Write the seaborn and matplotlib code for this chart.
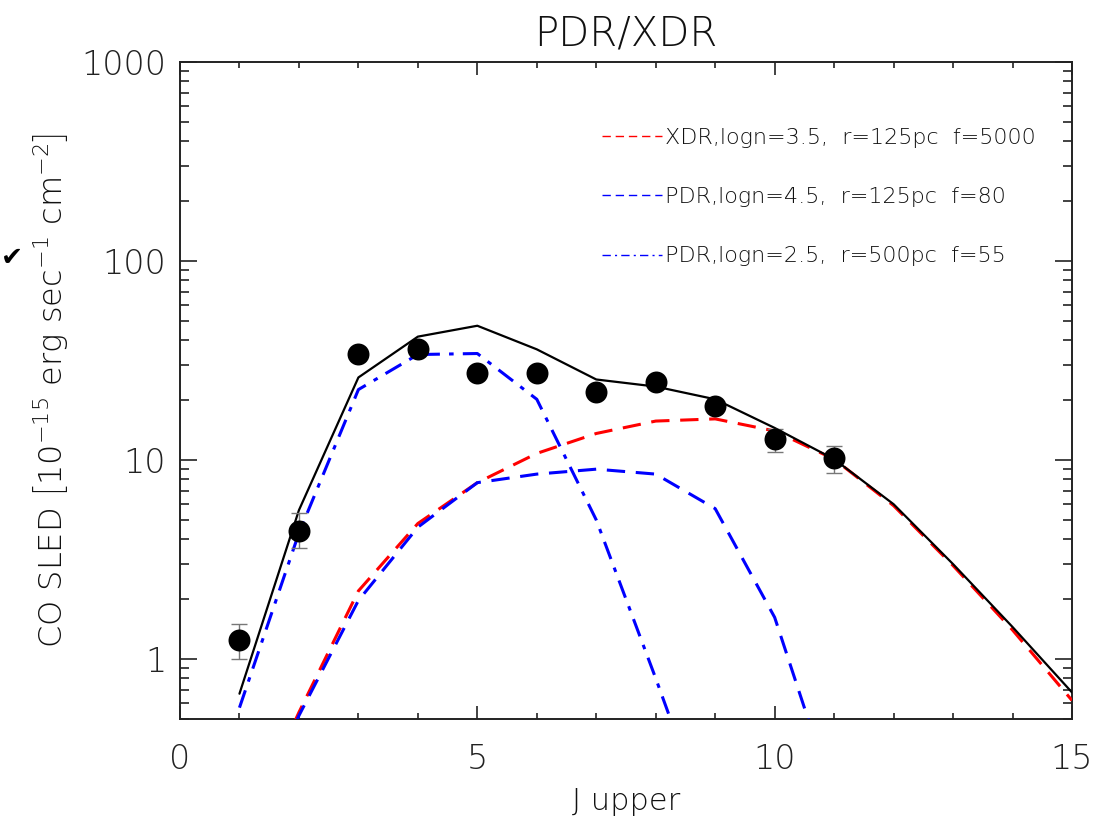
import numpy as np
import pandas as pd
import matplotlib
matplotlib.use("Agg")
import matplotlib.pyplot as plt
import seaborn as sns
from matplotlib.ticker import FixedLocator, NullFormatter, LogLocator

# ---------------- data ----------------
j_obs = [1, 2, 3, 4, 5, 6, 7, 8, 9, 10, 11]
flux_obs = [1.25, 4.4, 34.0, 36.0, 27.5, 27.5, 22.0, 24.8, 18.6, 12.7, 10.2]
err_lo = [0.25, 0.8, 2.0, 2.0, 1.5, 1.5, 1.2, 1.3, 1.0, 1.7, 1.6]
err_hi = [0.25, 1.0, 2.0, 2.0, 1.5, 1.5, 1.2, 1.3, 1.0, 1.6, 1.5]

j_mod = [1, 2, 3, 4, 5, 6, 7, 8, 9, 10, 11, 12, 13, 14, 15]
total = [0.67, 5.6, 26.0, 41.7, 47.3, 36.0, 25.4, 23.4, 20.2, 14.5, 10.1, 6.0, 3.0, 1.45, 0.68]
xdr_35 = [0.12, 0.54, 2.2, 4.8, 7.7, 10.8, 13.6, 15.7, 16.1, 14.0, 10.1, 5.9, 2.95, 1.4, 0.62]
pdr_45 = [0.11, 0.52, 1.97, 4.6, 7.7, 8.5, 9.0, 8.5, 5.7, 1.62, 0.2, 0.02, 0.002, 0.0002, 0.00002]
pdr_25 = [0.57, 4.3, 22.6, 33.9, 34.3, 20.2, 5.0, 0.8, 0.12, 0.01, 0.001, 0.0001, 0.00001, 0.000001, 0.0000001]

labels = ["XDR,logn=3.5,  r=125pc  f=5000",
          "PDR,logn=4.5,  r=125pc  f=80",
          "PDR,logn=2.5,  r=500pc  f=55"]

# ---------------- style ----------------
sns.set_theme(style="ticks")
FONT = ["DejaVu Sans"]
plt.rcParams["font.family"] = FONT
plt.rcParams["font.weight"] = "light"
plt.rcParams["axes.titleweight"] = "light"
plt.rcParams["axes.labelweight"] = "light"
plt.rcParams["text.color"] = "#111111"
plt.rcParams["axes.labelcolor"] = "#111111"
plt.rcParams["xtick.color"] = "#222222"
plt.rcParams["ytick.color"] = "#222222"
plt.rcParams["mathtext.fontset"] = "custom"
plt.rcParams["mathtext.rm"] = "DejaVu Sans:light"
plt.rcParams["mathtext.it"] = "DejaVu Sans:light"
plt.rcParams["mathtext.bf"] = "DejaVu Sans"

fig = plt.figure(figsize=(11.10, 8.27), dpi=100)
ax = fig.add_axes([180 / 1110, 1 - 719 / 827, (1072 - 180) / 1110, (719 - 62) / 827])

models = pd.DataFrame({"J": j_mod, "total": total, "xdr": xdr_35, "pdr45": pdr_45, "pdr25": pdr_25})

sns.lineplot(data=models, x="J", y="total", ax=ax, color="black", lw=1.6, zorder=4)
sns.lineplot(data=models, x="J", y="xdr", ax=ax, color="red", lw=2.2, label=labels[0], zorder=3)
sns.lineplot(data=models, x="J", y="pdr45", ax=ax, color="blue", lw=2.2, label=labels[1], zorder=3)
sns.lineplot(data=models, x="J", y="pdr25", ax=ax, color="blue", lw=2.2, label=labels[2], zorder=3)
lines = ax.get_lines()
lines[1].set_dashes([6, 3.5])
lines[2].set_dashes([6, 3.5])
lines[3].set_dashes([6, 3, 1.5, 3])

ax.errorbar(j_obs, flux_obs, yerr=[err_lo, err_hi], fmt="none", ecolor="#777777",
            elinewidth=1.0, capsize=6, capthick=1.0, zorder=5)
obs = pd.DataFrame({"J": j_obs, "flux": flux_obs})
sns.scatterplot(data=obs, x="J", y="flux", ax=ax, color="black", s=250, edgecolor="black",
                linewidth=0, zorder=6, legend=False)

ax.set_yscale("log")
ax.set_xlim(0, 15)
ax.set_ylim(0.5, 1000)

# ticks, IDL style
ax.set_xticks([0, 5, 10, 15])
ax.set_xticklabels(["0", "5", "10", "15"])
ax.xaxis.set_minor_locator(FixedLocator([x for x in range(0, 16) if x % 5 != 0]))
ax.set_yticks([1, 10, 100, 1000])
ax.set_yticklabels(["1", "10", "100", "1000"])
ax.yaxis.set_minor_locator(LogLocator(base=10, subs=np.arange(2, 10)))
ax.yaxis.set_minor_formatter(NullFormatter())
ax.tick_params(which="both", direction="in", top=True, right=True)
ax.tick_params(axis="x", which="major", length=9.5, width=1.2, labelsize=24, pad=17)
ax.tick_params(axis="x", which="minor", length=4.5, width=1.2)
ax.tick_params(axis="y", which="major", length=12.5, width=1.2, labelsize=24, pad=10)
ax.tick_params(axis="y", which="minor", length=6.5, width=1.2)
for s in ax.spines.values():
    s.set_visible(True)
    s.set_linewidth(1.4)
    s.set_color("#222222")

ax.set_title("PDR/XDR", fontsize=29, pad=12, fontweight="light")
ax.set_xlabel("J upper", fontsize=22, labelpad=8, fontweight="light")
ax.set_ylabel(r"CO SLED $\left[10^{-15}\ \mathrm{erg\ sec^{-1}\ cm^{-2}}\right]$", fontsize=23,
              labelpad=8, fontweight="light")

leg = ax.legend(loc="upper right", bbox_to_anchor=(0.972, 0.917), frameon=False, fontsize=16,
                handlelength=2.7, handletextpad=0.15, labelspacing=1.77, borderpad=0)
for h in leg.get_lines():
    h.set_linewidth(1.0)

fig.text(0.5 / 1110, 1 - 258 / 827, "\u2714", fontsize=19, fontweight="bold", color="black",
         family="DejaVu Sans", va="center", ha="left")

fig.savefig("out.png", dpi=100)
